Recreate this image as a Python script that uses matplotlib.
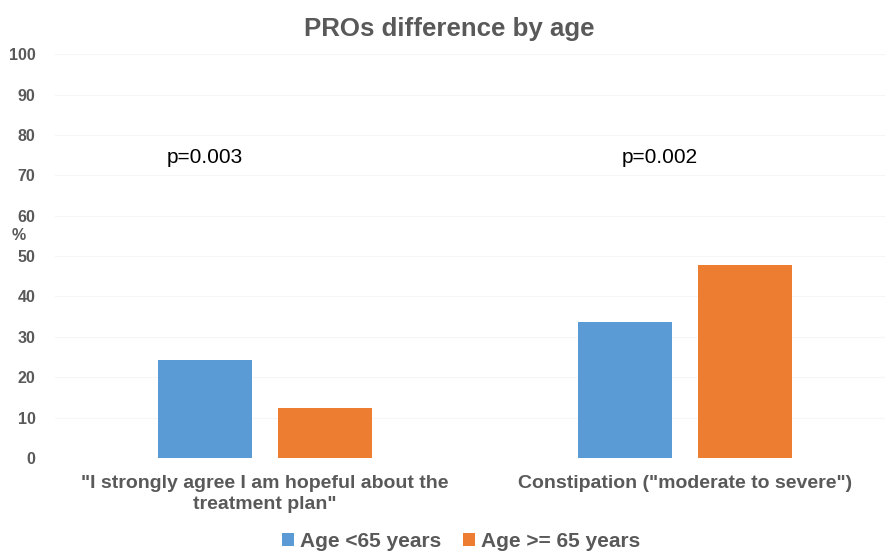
import numpy as np
import matplotlib.pyplot as plt

plt.rcParams['font.family'] = ['Liberation Sans', 'DejaVu Sans']

# ---- data ----
categories = ['"I strongly agree I am hopeful about the\ntreatment plan"',
              'Constipation ("moderate to severe")']
series_names = ['Age <65 years', 'Age >= 65 years']
under65 = [24.3, 33.7]
over65 = [12.4, 47.9]
pvalues = ['p=0.003', 'p=0.002']
yticks = list(range(0, 101, 10))

blue = '#5b9bd5'
orange = '#ed7d31'
grey = '#595959'

fig = plt.figure(figsize=(8.85, 5.53), dpi=100)
ax = fig.add_axes([0.062, 0.172, 0.938, 0.73])

x = np.arange(len(categories))
w = 0.224
off = 0.143
ax.bar(x - off, under65, w, color=blue, label=series_names[0], zorder=3)
ax.bar(x + off, over65, w, color=orange, label=series_names[1], zorder=3)

ax.set_xlim(-0.5, 1.476)
ax.set_ylim(0, 100)
ax.set_yticks(yticks)
ax.set_yticklabels([str(t) for t in yticks], fontsize=11.5, fontweight='bold', color=grey)
ax.set_xticks(x)
ax.set_xticklabels(categories, fontsize=14, fontweight='bold', color=grey, linespacing=1.35)
ax.tick_params(axis='both', length=0)
ax.tick_params(axis='x', pad=12)
ax.tick_params(axis='y', pad=14)
for s in ax.spines.values():
    s.set_visible(False)
ax.grid(axis='y', color='#f6f6f6', linewidth=0.8, zorder=0)

# p-values
ax.text(x[0] - off, 74.4, pvalues[0], ha='center', va='center', fontsize=15, color='black')
ax.text(x[1] - 0.06, 74.4, pvalues[1], ha='center', va='center', fontsize=15, color='black')

fig.text(0.508, 0.948, 'PROs difference by age', ha='center', va='center',
         fontsize=18.6, fontweight='bold', color=grey)
fig.text(0.021, 0.575, '%', ha='center', va='center', fontsize=11.5, fontweight='bold', color=grey)

leg = fig.legend(loc='center', bbox_to_anchor=(0.521, 0.021), ncol=2, frameon=False,
                 handlelength=0.6, handleheight=0.6, handletextpad=0.3, columnspacing=1.0,
                 prop={'size': 15, 'weight': 'bold'})
for t in leg.get_texts():
    t.set_color(grey)

fig.savefig('out.png', dpi=100)
